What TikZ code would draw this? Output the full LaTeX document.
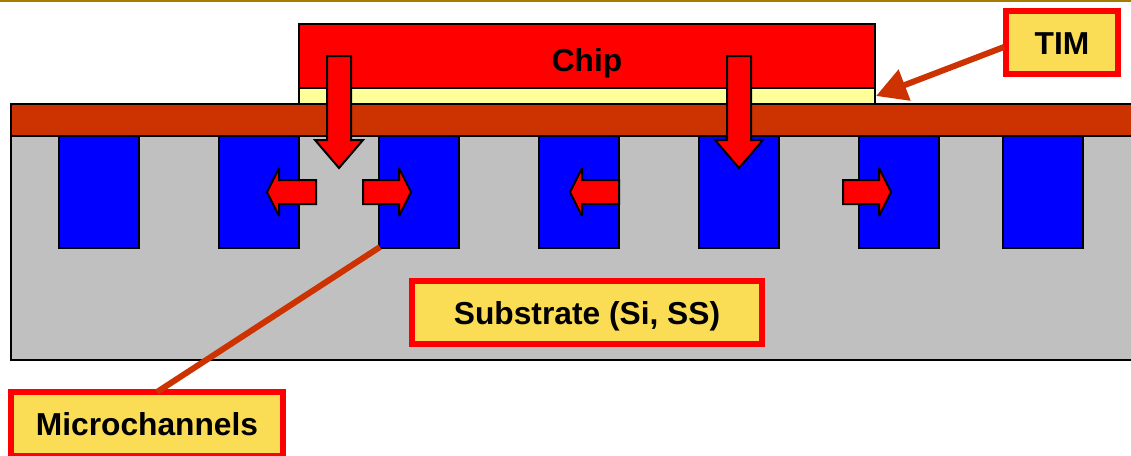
\documentclass[tikz,border=0pt]{standalone}
\usepackage{fontspec}
\setmainfont{Liberation Sans}
\usetikzlibrary{arrows.meta}
\definecolor{spreader}{HTML}{CC3300}
\definecolor{timfill}{HTML}{FFFF99}
\definecolor{labelfill}{HTML}{FADC55}
\definecolor{topline}{HTML}{A67C00}
\definecolor{substrate}{HTML}{C0C0C0}
\tikzset{
	layer/.style={draw=black, line width=1.5pt},
	flow/.style={fill=red, draw=black, line width=1.5pt, miter limit=4},
	caps/.style={font=\fontsize{23.8}{28}\selectfont\bfseries, text height=17.3pt, text depth=0pt, inner sep=0pt},
	tag/.style={caps, fill=labelfill, draw=red, line width=4.5pt},
	lead/.style={draw=spreader, line width=4.5pt}
}
\begin{document}
\begin{tikzpicture}[x=0.75pt,y=0.75pt]
	\useasboundingbox (0,0) rectangle (1131,-455);
	\fill[topline] (0,0) rectangle (1131,-1.5);
	\draw[layer, fill=substrate] (1140,-136) -- (11,-136) -- (11,-360) -- (1140,-360);
	\foreach \x in {59,219,379,539,699,859,1003}
		\draw[layer, fill=blue] (\x,-136) rectangle (\x+80,-248);
	\draw[layer, fill=timfill] (299,-88) rectangle (875,-104);
	\draw[layer, fill=red] (299,-24) rectangle (875,-88);
	\node[caps] (chip) at (587,-60) {Chip};
	\draw[layer, fill=spreader] (1140,-104) -- (11,-104) -- (11,-136) -- (1140,-136);
	% down
	\foreach \x in {339,739}
		\draw[flow] (\x-12,-56) -- (\x+12,-56) -- (\x+12,-140) -- (\x+24,-140) -- (\x,-168) -- (\x-24,-140) -- (\x-12,-140) -- cycle;
	% right
	\foreach \x in {363,843}
		\draw[flow] (\x,-180) -- (\x+36,-180) -- (\x+36,-168) -- (\x+48,-192) -- (\x+36,-216) -- (\x+36,-204) -- (\x,-204) -- cycle;
	% left
	\foreach \x in {316,619}
		\draw[flow] (\x,-180) -- (\x-37,-180) -- (\x-37,-168) -- (\x-49,-192) -- (\x-37,-216) -- (\x-37,-204) -- (\x,-204) -- cycle;
	\coordinate (timend) at (876,-96);
	\coordinate (timstart) at (1004,-47);
	\coordinate (channelend) at (380,-247);
	\coordinate (microstart) at (157,-392);
	\node[tag, minimum width=84pt, minimum height=47.25pt] (tim) at (1062,-42.5) {TIM};
	\node[tag, minimum width=262.5pt, minimum height=47.25pt] (sub) at (587,-312.5) {Substrate (Si, SS)};
	\node[tag, minimum width=204pt, minimum height=48pt] (micro) at (147,-424) {Microchannels};
	\draw[lead, -{Triangle[length=23pt,width=24pt]}] (timstart) -- (timend);
	\draw[lead] (microstart) -- (channelend);
\end{tikzpicture}
\end{document}
